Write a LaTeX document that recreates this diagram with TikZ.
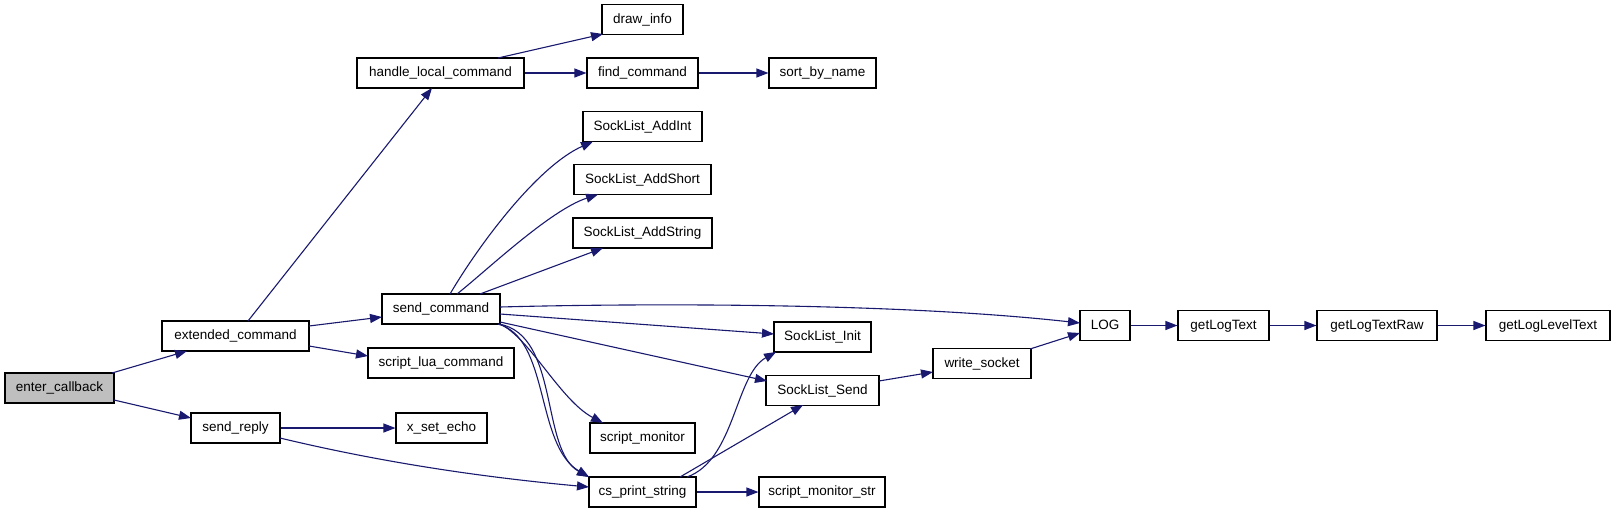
\documentclass[tikz,border=0pt]{standalone}
\usepackage{fontspec}
\setmainfont{Liberation Sans}
\usetikzlibrary{arrows.meta,calc}
\definecolor{edgeblue}{HTML}{191970}
\definecolor{rootgray}{HTML}{BFBFBF}
\begin{document}
\begin{tikzpicture}[x=1pt,y=-1pt,
  fn/.style={draw=black, line width=1.1pt, fill=white, inner sep=0pt,
    minimum height=30pt, font=\fontsize{13.5}{16}\selectfont,
    text height=10pt, text depth=3pt},
  call/.style={draw=edgeblue, line width=1.1pt, -{Triangle[length=12pt,width=9pt]}}]
\useasboundingbox[fill=white] (0,0) rectangle (1616,512);
% nodes
\node[fn, fill=rootgray, minimum width=109pt] (ec) at (59.5,388) {enter\_callback};
\node[fn, minimum width=147pt] (ext) at (235.5,336) {extended\_command};
\node[fn, minimum width=89pt] (sr) at (235.5,428) {send\_reply};
\node[fn, minimum width=167pt] (hlc) at (440.5,73) {handle\_local\_command};
\node[fn, minimum width=118pt] (sc) at (441,309) {send\_command};
\node[fn, minimum width=146pt] (slc) at (441,363) {script\_lua\_command};
\node[fn, minimum width=91pt] (xse) at (441.5,428) {x\_set\_echo};
\node[fn, minimum width=81pt] (di) at (642.5,19.5) {draw\_info};
\node[fn, minimum width=111pt] (fc) at (642.5,73) {find\_command};
\node[fn, minimum width=119pt] (sai) at (642.5,126.5) {SockList\_AddInt};
\node[fn, minimum width=137pt] (sas) at (642.5,179.5) {SockList\_AddShort};
\node[fn, minimum width=139pt] (sastr) at (642.5,233) {SockList\_AddString};
\node[fn, minimum width=105pt] (sm) at (642.5,438) {script\_monitor};
\node[fn, minimum width=107pt] (cps) at (642.5,492) {cs\_print\_string};
\node[fn, minimum width=107pt] (sbn) at (822.5,73) {sort\_by\_name};
\node[fn, minimum width=97pt] (sli) at (822.5,337) {SockList\_Init};
\node[fn, minimum width=113pt] (sls) at (822.5,390.5) {SockList\_Send};
\node[fn, minimum width=126pt] (sms) at (822,492) {script\_monitor\_str};
\node[fn, minimum width=98pt] (ws) at (982,363.5) {write\_socket};
\node[fn, minimum width=50pt] (log) at (1105,325.5) {LOG};
\node[fn, minimum width=91pt] (glt) at (1223.5,325.5) {getLogText};
\node[fn, minimum width=120pt] (gltr) at (1377,325.5) {getLogTextRaw};
\node[fn, minimum width=124pt] (glvt) at (1548,325.5) {getLogLevelText};
% edges
\draw[call] ($(ec.center)+(52.5,-15)$) -- ($(ext.center)+(-48.5,15)$);
\draw[call] ($(ec.center)+(54.5,12)$) -- ($(sr.center)+(-44.5,-10)$);
\draw[call] ($(ext.center)+(12.5,-15)$) -- ($(hlc.center)+(-8.5,15)$);
\draw[call] ($(ext.center)+(73.5,-10)$) -- ($(sc.center)+(-59,8)$);
\draw[call] ($(ext.center)+(73.5,10)$) -- ($(slc.center)+(-73,-7)$);
\draw[call] (sr.east) -- (xse.west);
\draw[call] ($(sr.center)+(44.5,10)$) .. controls (380,462) and (480,477) .. ($(cps.center)+(-53.5,-5)$);
\draw[call] ($(hlc.center)+(57.5,-15)$) -- ($(di.center)+(-39.5,14.5)$);
\draw[call] (hlc.east) -- (fc.west);
\draw[call] (fc.east) -- (sbn.west);
\draw[call] ($(sc.center)+(9,-15)$) .. controls (480,243) and (538,166) .. ($(sai.center)+(-49.5,15)$);
\draw[call] ($(sc.center)+(16,-15)$) .. controls (485,272) and (550,210) .. ($(sas.center)+(-44.5,15)$);
\draw[call] ($(sc.center)+(39,-15)$) -- ($(sastr.center)+(-39.5,15)$);
\draw[call] ($(sc.center)+(59,-2)$) .. controls (650,303) and (900,303) .. ($(log.center)+(-25,-2.5)$);
\draw[call] ($(sc.center)+(59,5)$) -- ($(sli.center)+(-48.5,-3)$);
\draw[call] ($(sc.center)+(59,13)$) -- ($(sls.center)+(-55.5,-9.5)$);
\draw[call] ($(sc.center)+(59,15)$) .. controls (530,338) and (560,400) .. ($(sm.center)+(-39.5,-15)$);
\draw[call] ($(sc.center)+(58,15)$) .. controls (560,335) and (540,450) .. ($(cps.center)+(-53.5,-15)$);
\draw[call] ($(sc.center)+(57,15)$) .. controls (550,338) and (535,445) .. ($(cps.center)+(-53.5,-15)$);
\draw[call] ($(cps.center)+(44.5,-15)$) .. controls (735,460) and (735,375) .. ($(sli.center)+(-46.5,15)$);
\draw[call] ($(cps.center)+(37.5,-15)$) -- ($(sls.center)+(-19.5,14.5)$);
\draw[call] (cps.east) -- (sms.west);
\draw[call] ($(sls.center)+(56.5,-9.5)$) -- ($(ws.center)+(-49,8.5)$);
\draw[call] ($(ws.center)+(48,-14.5)$) -- ($(log.center)+(-25,7.5)$);
\draw[call] (log.east) -- (glt.west);
\draw[call] (glt.east) -- (gltr.west);
\draw[call] (gltr.east) -- (glvt.west);
\end{tikzpicture}
\end{document}
